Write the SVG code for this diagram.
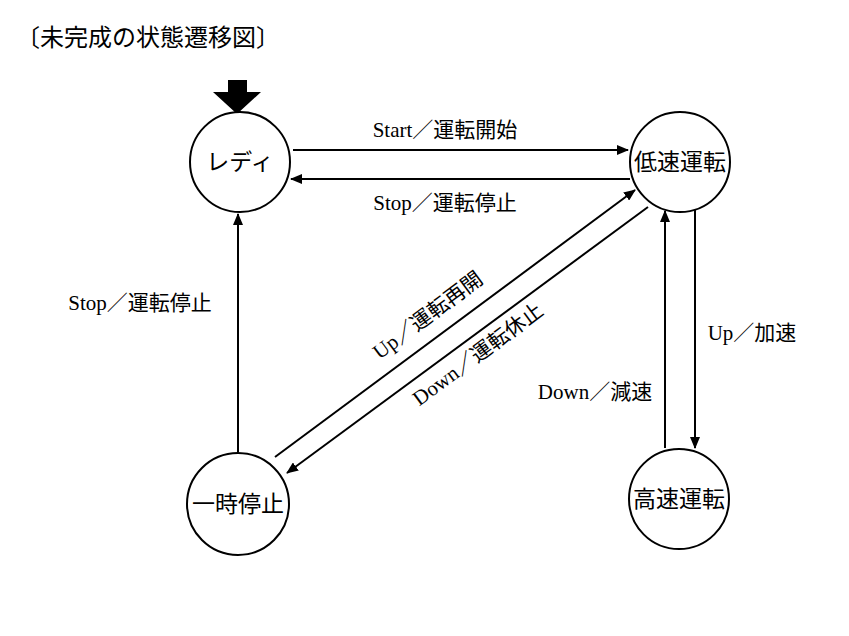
<svg xmlns="http://www.w3.org/2000/svg" width="849" height="636" viewBox="0 0 849 636">
<style>
.n{fill:#fff;stroke:#000;stroke-width:2}
.t{font-family:"Liberation Serif","Noto Sans CJK JP",serif;font-size:23px;text-anchor:middle;fill:#000}
.l{font-family:"Liberation Serif","Noto Sans CJK JP",serif;font-size:21px;text-anchor:middle;fill:#000}
.c line{stroke:#000;stroke-width:2;marker-end:url(#a)}
</style>
<defs><marker id="a" markerWidth="12" markerHeight="10" refX="11" refY="5" orient="auto" markerUnits="userSpaceOnUse"><path d="M0,0 L12,5 L0,10 Z" fill="#000"/></marker></defs>
<rect width="849" height="636" fill="#fff"/>
<text x="16" y="46" font-family="'Noto Sans CJK JP',sans-serif" font-size="24">〔未完成の状態遷移図〕</text>
<path d="M228,80 H247 V92 H261 L237,114 L213,92 H228 Z" fill="#000"/>
<g class="c">
<line x1="293" y1="150" x2="628" y2="150"/>
<line x1="630" y1="179" x2="291" y2="179"/>
<line x1="238" y1="452" x2="238" y2="214"/>
<line x1="275" y1="457" x2="635" y2="190"/>
<line x1="648" y1="207" x2="287" y2="473"/>
<line x1="695" y1="210" x2="695" y2="448"/>
<line x1="665" y1="448" x2="665" y2="211"/>
</g>
<g id="ready"><circle class="n" cx="240" cy="162" r="50"/><text class="t" x="240" y="170">レディ</text></g>
<g id="low"><circle class="n" cx="680" cy="162" r="50"/><text class="t" x="680" y="170">低速運転</text></g>
<g id="pause"><circle class="n" cx="238" cy="504" r="51"/><text class="t" x="238" y="512">一時停止</text></g>
<g id="high"><circle class="n" cx="679" cy="499" r="50"/><text class="t" x="679" y="507">高速運転</text></g>
<g id="labels">
<text class="l" x="445" y="137">Start／運転開始</text>
<text class="l" x="445" y="210">Stop／運転停止</text>
<text class="l" x="140" y="310">Stop／運転停止</text>
<text class="l" x="752" y="340">Up／加速</text>
<text class="l" x="595" y="399">Down／減速</text>
<text class="l" transform="translate(432,321) rotate(-36.6)">Up／運転再開</text>
<text class="l" transform="translate(482,360) rotate(-36.6)">Down／運転休止</text>
</g>
</svg>
